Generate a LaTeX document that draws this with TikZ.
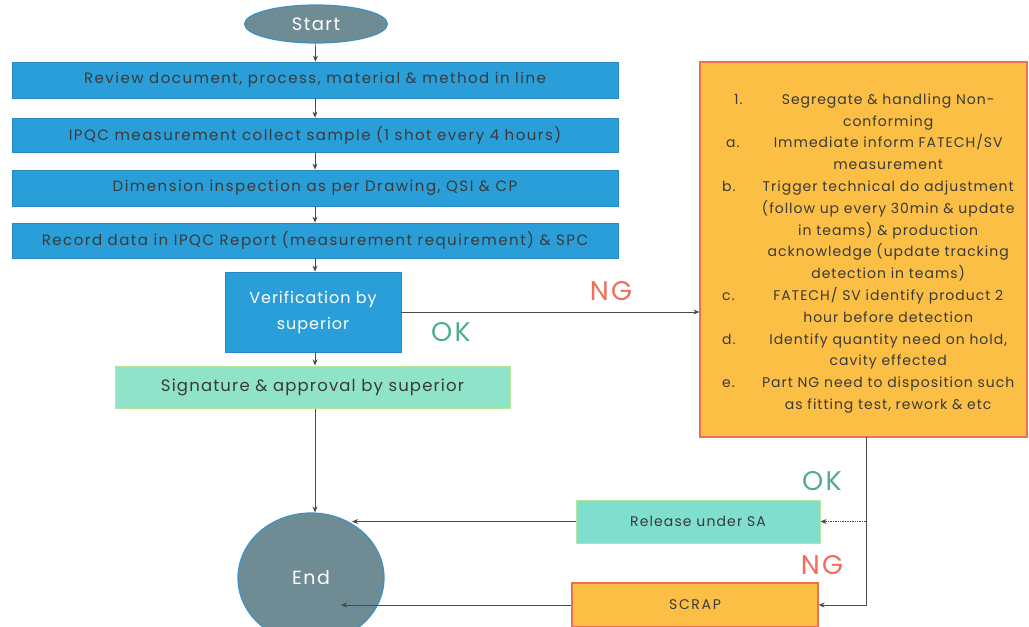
\documentclass[tikz,border=0pt]{standalone}
\usepackage{fontspec}
\usepackage{array}
\setmainfont{Poppins}
\usetikzlibrary{shapes.geometric,arrows.meta}

\definecolor{boxblue}{HTML}{2A9ED8}
\definecolor{boxblueline}{HTML}{2588C0}
\definecolor{capgrey}{HTML}{6F8B93}
\definecolor{capline}{HTML}{3F92C4}
\definecolor{mintbox}{HTML}{8FE3C9}
\definecolor{mintline}{HTML}{B4E69A}
\definecolor{tealbox}{HTML}{80DECF}
\definecolor{amber}{HTML}{FBBF45}
\definecolor{amberline}{HTML}{E9724F}
\definecolor{ngred}{HTML}{F36C5C}
\definecolor{okgreen}{HTML}{4FAE8C}
\definecolor{ink}{HTML}{3A3A3A}
\definecolor{wire}{HTML}{4A4A4A}

% tracked (letter-spaced) text at a given size
\newcommand{\tracked}[2]{\fontsize{#1}{#1}\selectfont\addfontfeatures{LetterSpace=#2}}

\tikzset{
  stepbox/.style={draw=boxblueline, fill=boxblue, line width=0.8pt, text=ink,
    minimum width=606pt, inner sep=0pt, font=\tracked{15}{10}},
  capsule/.style={ellipse, draw=capline, fill=capgrey, line width=1.2pt,
    text=white, inner sep=0pt},
  greenbox/.style={draw=mintline, fill=mintbox, line width=1pt, text=ink, inner sep=0pt},
  amberbox/.style={draw=amberline, fill=amber, line width=1.2pt, text=ink, inner sep=0pt},
  arr/.style={draw=wire, line width=0.7pt, -{Stealth[length=6pt,width=5pt]}},
  verdict/.style={font=\tracked{27}{8}, inner sep=0pt},
}

\begin{document}
\begin{tikzpicture}[x=1pt,y=-1pt]
\useasboundingbox (0,0) rectangle (1029,627);

% main column
\node[capsule, minimum width=143pt, minimum height=38pt,
      font=\tracked{18}{8}] (start) at (316,24) {Start};
\node[stepbox, minimum height=36pt] (review) at (315,80)
  {Review document, process, material \& method in line};
\node[stepbox, minimum height=34pt] (ipqc) at (315,135)
  {IPQC measurement collect sample (1 shot every 4 hours)};
\node[stepbox, minimum height=36pt] (dim) at (315,188)
  {Dimension inspection as per Drawing, QSI \& CP};
\node[stepbox, minimum height=35pt] (record) at (315,240.5)
  {Record data in IPQC Report (measurement requirement) \& SPC};
\node[stepbox, minimum width=176pt, minimum height=80pt, text=white, align=center,
      font={\fontsize{16}{26}\selectfont\addfontfeatures{LetterSpace=6}}] (verify) at (313,312)
  {Verification by\\superior};
\node[greenbox, minimum width=395pt, minimum height=42pt,
      font=\tracked{16.5}{7}] (sign) at (312.5,387)
  {Signature \& approval by superior};
\node[capsule, minimum width=146pt, minimum height=130pt,
      font=\tracked{19}{8}] (finish) at (311,578) {End};

% non-conforming handling
\node[amberbox, minimum width=327pt, minimum height=375pt] (nc) at (863.5,249.5) {};
\node[inner sep=0pt, anchor=west, text=ink,
      font={\fontsize{14}{21.8}\selectfont\addfontfeatures{LetterSpace=7}}] (nctext) at (722,252.5)
  {\begin{tabular}{@{}p{31pt}@{}>{\centering\arraybackslash}p{270pt}@{}}
   \hspace{12pt}1. & Segregate \& handling Non-\\
      & conforming\\
   \hspace{4pt}a. & Immediate inform FATECH/SV\\
      & measurement\\
   b. & Trigger technical do adjustment\\
      & (follow up every 30min \& update\\
      & in teams) \& production\\
      & acknowledge (update tracking\\
      & detection in teams)\\
   c. & FATECH/ SV identify product 2\\
      & hour before detection\\
   d. & Identify quantity need on hold,\\
      & cavity effected\\
   e. & Part NG need to disposition such\\
      & as fitting test, rework \& etc
   \end{tabular}};

\node[greenbox, fill=tealbox, minimum width=244pt, minimum height=43pt,
      font=\tracked{14}{8}] (release) at (698,521.5) {Release under SA};
\node[amberbox, minimum width=246pt, minimum height=44pt,
      font=\tracked{14}{12}] (scrap) at (695,605) {SCRAP};

% decision labels
\node[verdict, text=ngred] (ng1) at (611,291) {NG};
\node[verdict, text=okgreen] (ok1) at (451,332) {OK};
\node[verdict, text=okgreen] (ok2) at (822,481) {OK};
\node[verdict, text=ngred] (ng2) at (822,565) {NG};

% flow
\draw[arr] (start) -- (review);
\draw[arr] (review) -- (ipqc);
\draw[arr] (ipqc) -- (dim);
\draw[arr] (dim) -- (record);
\draw[arr] (record.south) -- (record.south |- verify.north);
\draw[arr] (verify.south -| record.south) -- (record.south |- sign.north);
\draw[arr] (sign.south -| record.south) -- (record.south |- finish.north);
\draw[arr] (verify.east) -- (verify.east -| nc.west);

\coordinate (drop) at (866,437);
\coordinate (relTip) at (352,521.5);
\coordinate (scrapTip) at (341,605);
\draw[arr] (drop) |- (scrap.east);
\draw[arr, densely dotted] (drop |- release.east) -- (release.east);
\draw[arr] (release.west) -- (relTip);
\draw[arr] (scrap.west) -- (scrapTip);
\end{tikzpicture}
\end{document}
